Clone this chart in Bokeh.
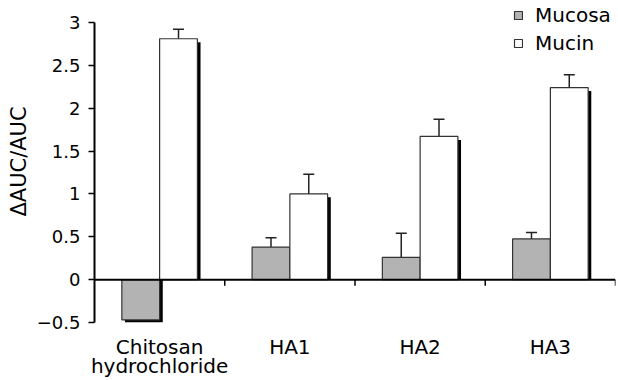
from bokeh.plotting import figure
from bokeh.models import (ColumnDataSource, FactorRange, Range1d, FixedTicker, Span,
                          Whisker, TeeHead, Legend, LegendItem)
from bokeh.transform import dodge
from bokeh.embed import file_html
from bokeh.resources import INLINE

categories = ["Chitosan\nhydrochloride", "HA1", "HA2", "HA3"]
mucosa = [-0.47, 0.38, 0.26, 0.475]
mucosa_err = [0.15, 0.11, 0.28, 0.075]
mucin = [2.81, 1.0, 1.67, 2.24]
mucin_err = [0.11, 0.23, 0.20, 0.15]
y_ticks = [-0.5, 0, 0.5, 1, 1.5, 2, 2.5, 3]
y_tick_labels = ["\u22120.5", "0", "0.5", "1", "1.5", "2", "2.5", "3"]
series_names = ["Mucosa", "Mucin"]

FONT = "DejaVu Sans"
BAR_W = 0.29
SH_DX = 0.024   # shadow offset (category units)
SH_DY = 0.04    # shadow offset (data units)


def make_source(vals, errs):
    top_s = [v - SH_DY if v > 0 else 0 for v in vals]
    bot_s = [0 if v > 0 else v - SH_DY for v in vals]
    return ColumnDataSource(dict(
        cat=categories, val=vals, upper=[v + e for v, e in zip(vals, errs)],
        top_s=top_s, bot_s=bot_s))


src_a = make_source(mucosa, mucosa_err)
src_b = make_source(mucin, mucin_err)

# frame spans the full height above the axis so the legend is not clipped;
# the y axis itself is bounded to the tick range
p = figure(width=618, height=380, x_range=FactorRange(*categories, range_padding=0),
           y_range=Range1d(y_ticks[0], y_ticks[-1] + 0.256), output_backend="svg",
           toolbar_location=None,
           min_border_left=94, min_border_top=0, min_border_right=3, min_border_bottom=57)
p.outline_line_color = None
p.grid.visible = False
p.background_fill_color = "white"

off_a = -BAR_W / 2
off_b = BAR_W / 2

# shadows
for src, off in ((src_a, off_a), (src_b, off_b)):
    p.vbar(x=dodge("cat", off + SH_DX, range=p.x_range), top="top_s", bottom="bot_s",
           width=BAR_W, source=src, fill_color="black", line_color=None)

ra = p.vbar(x=dodge("cat", off_a, range=p.x_range), top="val", bottom=0, width=BAR_W,
            source=src_a, fill_color="#b3b3b3", line_color="#333333", line_width=1.2)
rb = p.vbar(x=dodge("cat", off_b, range=p.x_range), top="val", bottom=0, width=BAR_W,
            source=src_b, fill_color="white", line_color="#333333", line_width=1.2)

for src, off in ((src_a, off_a), (src_b, off_b)):
    w = Whisker(base=dodge("cat", off, range=p.x_range), lower="val", upper="upper",
                source=src, line_color="#222222", line_width=1.5,
                upper_head=TeeHead(size=11, line_color="#222222", line_width=1.5),
                lower_head=None)
    p.add_layout(w)

# zero line and category boundary ticks
p.add_layout(Span(location=0, dimension="width", line_color="black", line_width=2))
p.segment(x0=dodge("cat", 0.5, range=p.x_range), x1=dodge("cat", 0.5, range=p.x_range),
          y0=0, y1=-0.07, source=ColumnDataSource(dict(cat=categories)),
          line_color="black", line_width=1.5)

# axes
p.xaxis.axis_line_color = None
p.xaxis.major_tick_line_color = None
p.xaxis.minor_tick_line_color = None
p.xaxis.major_label_text_font = FONT
p.xaxis.major_label_text_font_size = "20px"
p.xaxis.major_label_text_color = "black"
p.xaxis.major_label_text_line_height = 0.8
p.xaxis.major_label_standoff = 6

p.yaxis.bounds = (y_ticks[0], y_ticks[-1])
p.yaxis.ticker = FixedTicker(ticks=y_ticks)
p.yaxis.major_label_overrides = {t: l for t, l in zip(y_ticks, y_tick_labels)}
p.yaxis.axis_line_width = 2
p.yaxis.axis_line_color = "black"
p.yaxis.major_tick_line_width = 1.5
p.yaxis.major_tick_out = 6
p.yaxis.major_tick_in = 0
p.yaxis.minor_tick_line_color = None
p.yaxis.major_label_text_font = FONT
p.yaxis.major_label_text_font_size = "18px"
p.yaxis.major_label_text_color = "black"
p.yaxis.major_label_standoff = 8
p.yaxis.axis_label = "\u0394AUC/AUC"
p.yaxis.axis_label_text_font = FONT
p.yaxis.axis_label_text_font_size = "21px"
p.yaxis.axis_label_text_font_style = "normal"
p.yaxis.axis_label_text_color = "black"
p.yaxis.axis_label_standoff = 3

legend = Legend(items=[LegendItem(label=series_names[0], renderers=[ra]),
                       LegendItem(label=series_names[1], renderers=[rb])],
                location=(419, 267), padding=0, margin=0, spacing=4,
                glyph_width=10, glyph_height=10, label_standoff=12, label_height=22,
                label_text_font=FONT, label_text_font_size="20px",
                label_text_color="black",
                border_line_color=None, background_fill_alpha=0)
p.add_layout(legend)

open("out.html", "w").write(file_html(p, INLINE))
